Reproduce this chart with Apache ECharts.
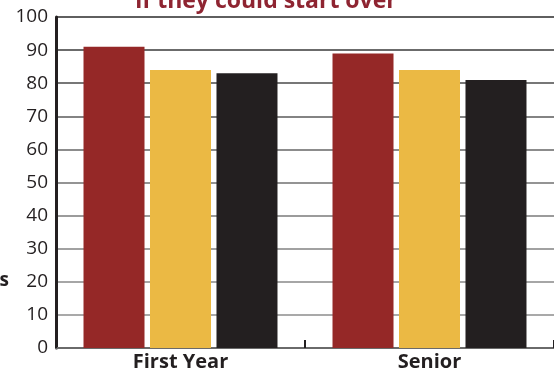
<!DOCTYPE html>
<html>
<head>
<meta charset="utf-8">
<script src="https://cdn.jsdelivr.net/npm/echarts@6/dist/echarts.min.js"></script>
<style>
  html, body { margin: 0; padding: 0; background: #fff; }
  #main { width: 554px; height: 374px; }
</style>
</head>
<body>
<div id="main"></div>
<script>
var categories = ['First Year', 'Senior'];
var seriesRed = [91, 89];
var seriesYellow = [84, 84];
var seriesBlack = [83, 81];
var yTicks = [0, 10, 20, 30, 40, 50, 60, 70, 80, 90, 100];

// grid lines get darker toward the top, like in the original
var lineColors = ['#888', '#8c8c8c', '#888', '#828282', '#7a7a7a', '#707070',
                  '#666', '#5a5a5a', '#4a4a4a', '#3a3a3a', '#2a2a2a'];

var fontFam = 'Open Sans';

var option = {
    animation: false,
    grid: { left: 56, right: -6, top: 17, bottom: 26 },
    graphic: [
        {
            type: 'text', x: 266, y: -10,
            style: { text: 'if they could start over', fill: '#8e2431', align: 'center',
                     font: 'bold 23px "' + fontFam + '"' }
        },
        {
            type: 'text', x: 9, y: 281,
            style: { text: 'Percentages', fill: '#231f20', align: 'right', verticalAlign: 'middle',
                     font: 'bold 19px "' + fontFam + '"' }
        }
    ],
    xAxis: {
        type: 'category',
        data: categories,
        axisLine: { lineStyle: { color: '#6a6a6a', width: 2 } },
        axisTick: { show: true, inside: true, length: 8, lineStyle: { color: '#231f20', width: 2 } },
        axisLabel: { color: '#231f20', fontSize: 20, fontWeight: 'bold', fontFamily: fontFam, margin: 4 }
    },
    yAxis: {
        type: 'value',
        min: yTicks[0],
        max: yTicks[yTicks.length - 1],
        interval: 10,
        axisLine: { show: true, lineStyle: { color: '#231f20', width: 3 } },
        axisTick: { show: false },
        axisLabel: { color: '#231f20', fontSize: 19, fontFamily: fontFam, margin: 8 },
        splitLine: { lineStyle: { color: lineColors, width: 1.5 } }
    },
    series: [
        { name: 'red', type: 'bar', data: seriesRed, barWidth: 61, barGap: '9%',
          itemStyle: { color: '#952827' } },
        { name: 'yellow', type: 'bar', data: seriesYellow, barWidth: 61, barGap: '9%',
          itemStyle: { color: '#ebb944' } },
        { name: 'black', type: 'bar', data: seriesBlack, barWidth: 61, barGap: '9%',
          itemStyle: { color: '#231f20' } }
    ]
};

var myChart = echarts.init(document.getElementById('main'));
myChart.setOption(option);
</script>
</body>
</html>
